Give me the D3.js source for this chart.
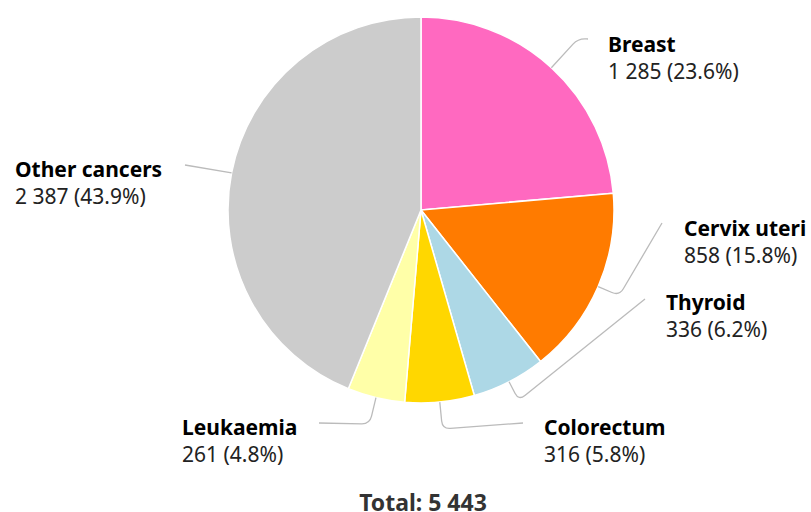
<!DOCTYPE html>
<html>
<head>
<meta charset="utf-8">
<script src="https://cdn.jsdelivr.net/npm/d3@7"></script>
<style>
  html, body { margin: 0; padding: 0; background: #fff; }
  svg { display: block; font-family: "Noto Sans", "Open Sans", sans-serif; }
</style>
</head>
<body>
<svg id="chart" width="811" height="512"></svg>
<script>
// Cancer cases by site
const categories = ["Breast", "Cervix uteri", "Thyroid", "Colorectum", "Leukaemia", "Other cancers"];
const values = [1285, 858, 336, 316, 261, 2387];
const colors = ["#ff69c0", "#ff7b00", "#add8e6", "#ffd700", "#ffffa8", "#cccccc"];

// Label placement: text anchor (x, first baseline), connector elbow length and end point
const labelLayout = [
  { x: 608, y: 52,  elbow: 40, end: [588, 39] },
  { x: 684, y: 236, elbow: 23, end: [662, 223] },
  { x: 666, y: 310, elbow: 21, end: [645, 299] },
  { x: 544, y: 435, elbow: 27, end: [523, 423] },
  { x: 182, y: 435, elbow: 27, end: [319, 423] },
  { x: 15,  y: 177, elbow: 0,  end: [185, 165] }
];

const total = d3.sum(values);
const fmt = v => d3.format(",")(v).replace(/,/g, " ");
const pct = v => d3.format(".1f")(v / total * 100) + "%";

const svg = d3.select("#chart");
const cx = 421, cy = 210, R = 193;

const pie = d3.pie().sort(null).value(d => d.value);
const arcs = pie(categories.map((c, i) => ({ name: c, value: values[i], i })));
const arc = d3.arc().innerRadius(0).outerRadius(R);

const g = svg.append("g").attr("transform", `translate(${cx},${cy})`);
g.selectAll("path.slice")
  .data(arcs)
  .join("path")
  .attr("class", "slice")
  .attr("d", arc)
  .attr("fill", d => colors[d.data.i])
  .attr("stroke", "#ffffff")
  .attr("stroke-width", 1.5)
  .attr("stroke-linejoin", "round");

// Connectors: from the slice edge outward radially, then a rounded bend to the label
function connector(d) {
  const L = labelLayout[d.data.i];
  const a = (d.startAngle + d.endAngle) / 2;
  const ux = Math.sin(a), uy = -Math.cos(a);
  const p0 = [cx + R * ux, cy + R * uy];
  const p1 = [p0[0] + L.elbow * ux, p0[1] + L.elbow * uy];
  const p2 = L.end;
  if (L.elbow === 0) return `M${p0}L${p2}`;
  const r = 8;
  const dx = p2[0] - p1[0], dy = p2[1] - p1[1];
  const len = Math.hypot(dx, dy);
  const b0 = [p1[0] - r * ux, p1[1] - r * uy];
  const b1 = [p1[0] + r * dx / len, p1[1] + r * dy / len];
  return `M${p0}L${b0}Q${p1} ${b1}L${p2}`;
}

svg.append("g").selectAll("path")
  .data(arcs)
  .join("path")
  .attr("d", connector)
  .attr("fill", "none")
  .attr("stroke", "#bbbbbb")
  .attr("stroke-width", 1.3);

const labels = svg.append("g").selectAll("text")
  .data(arcs)
  .join("text")
  .attr("x", d => labelLayout[d.data.i].x)
  .attr("y", d => labelLayout[d.data.i].y)
  .attr("font-size", 21)
  .attr("fill", "#000");

labels.append("tspan")
  .attr("font-weight", "bold")
  .text(d => d.data.name);
labels.append("tspan")
  .attr("x", d => labelLayout[d.data.i].x)
  .attr("dy", 27)
  .attr("fill", "#222")
  .text(d => `${fmt(d.data.value)} (${pct(d.data.value)})`);

svg.append("text")
  .attr("x", cx + 2)
  .attr("y", 511)
  .attr("text-anchor", "middle")
  .attr("font-size", 23)
  .attr("font-weight", "bold")
  .attr("fill", "#333")
  .text(`Total: ${fmt(total)}`);
</script>
</body>
</html>
